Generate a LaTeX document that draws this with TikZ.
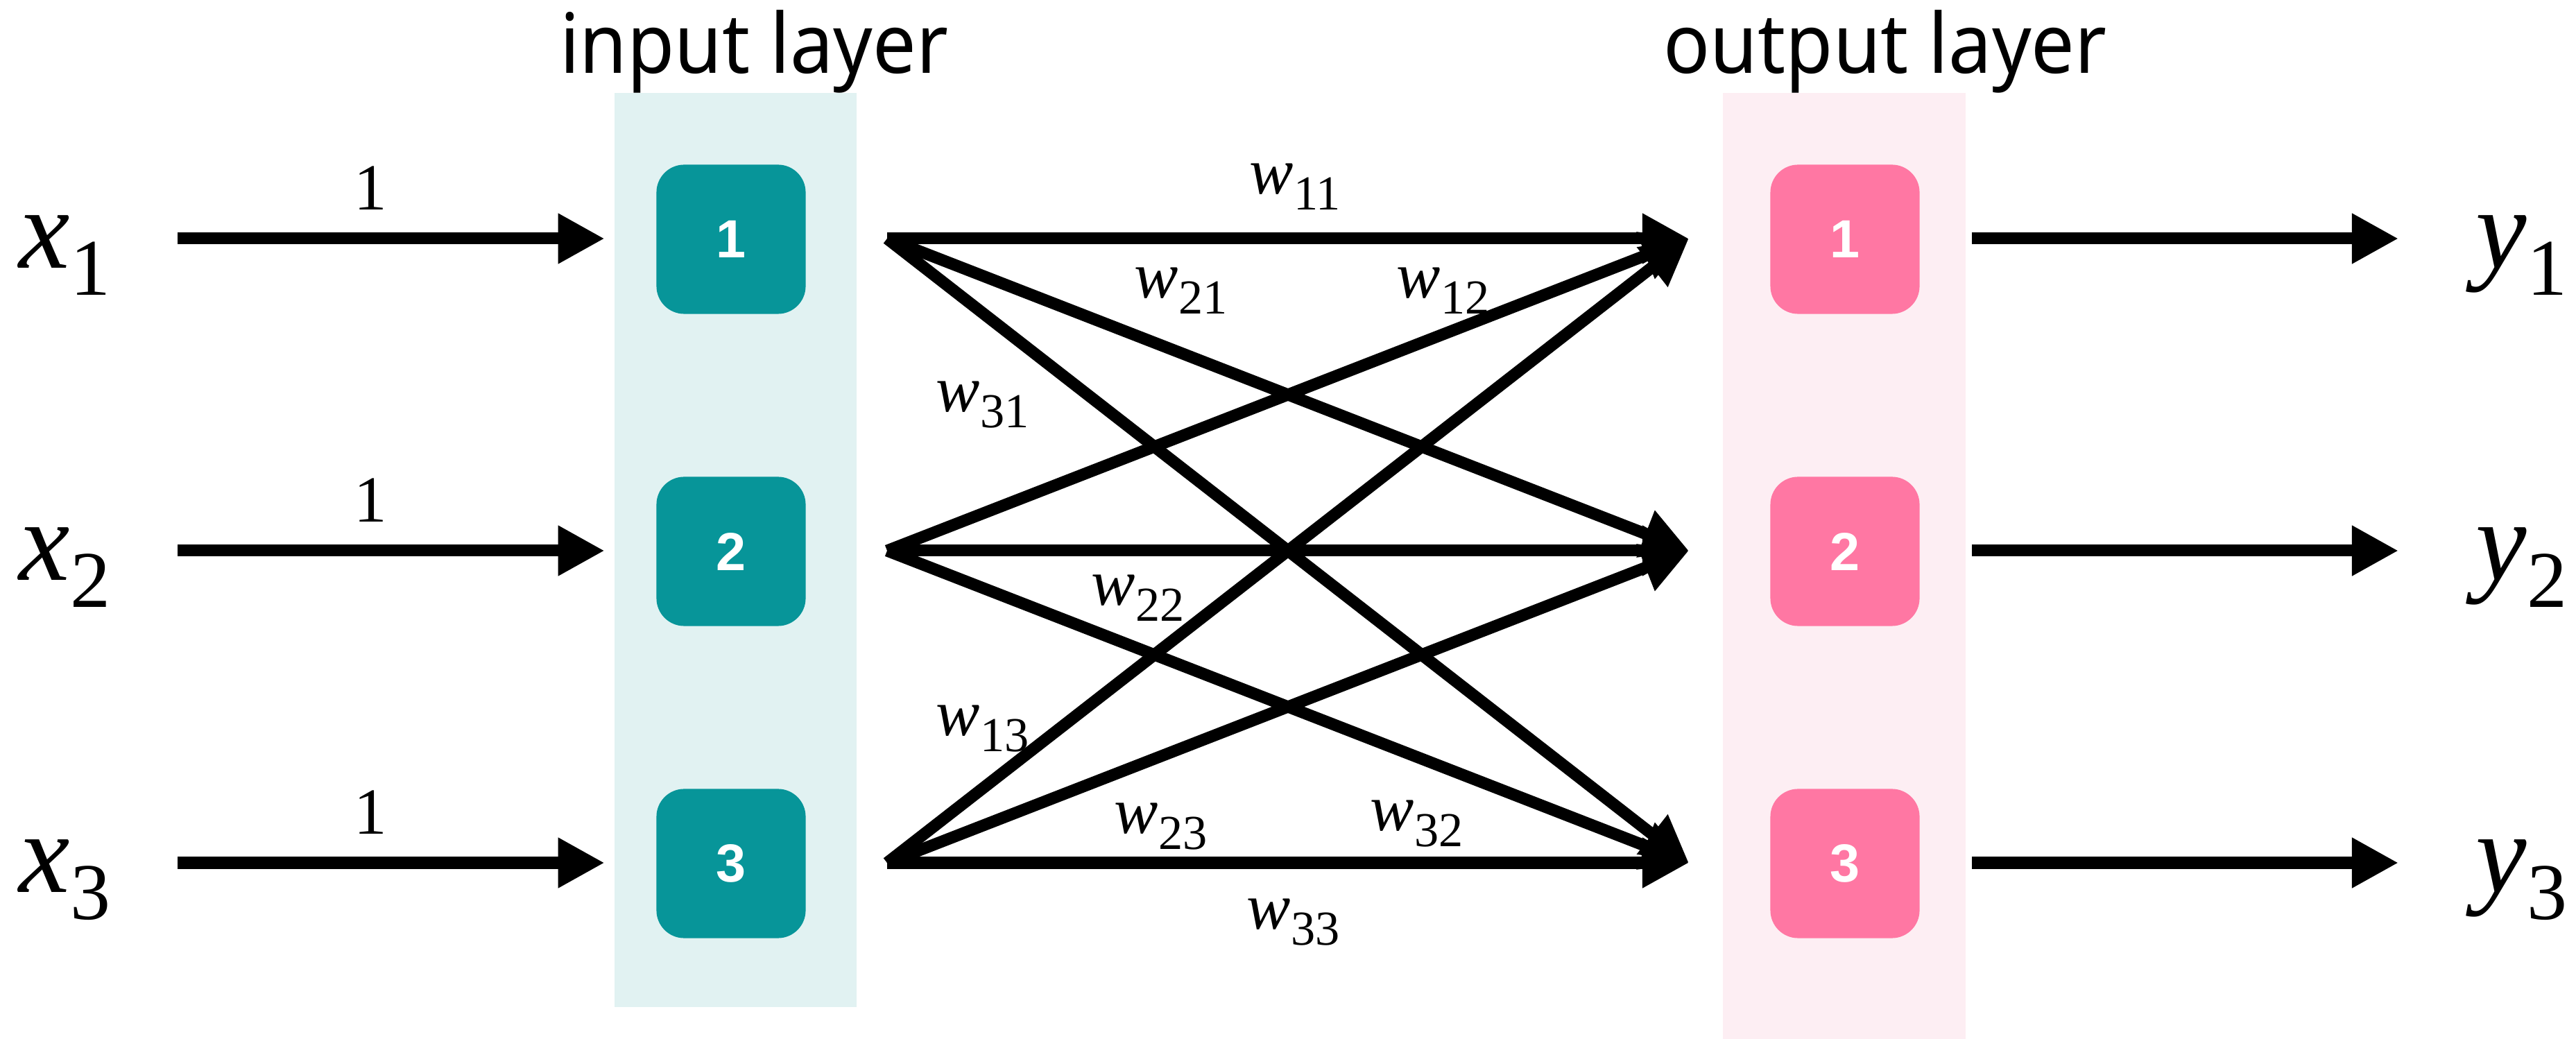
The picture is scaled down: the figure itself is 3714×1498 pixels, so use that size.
\documentclass[tikz,border=0pt]{standalone}
\usepackage{fontspec}
\usepackage{graphicx}
\setmainfont{Liberation Serif}
\newfontfamily\titlefont{Noto Sans}
\newfontfamily\numfont{Liberation Sans}
\usetikzlibrary{arrows.meta}
\definecolor{teal1}{HTML}{079599}
\definecolor{tealband}{HTML}{E1F2F2}
\definecolor{pink1}{HTML}{FF77A3}
\definecolor{pinkband}{HTML}{FDEEF3}
\newcommand\bigvar[2]{{\fontsize{47}{47}\selectfont\textit{#1}\raisebox{-11pt}{\fontsize{33}{33}\selectfont #2}}}
\newcommand\wlab[1]{{\fontsize{27}{27}\selectfont\textit{w}\raisebox{-6.5pt}{\fontsize{20}{20}\selectfont #1}}}
\begin{document}
\begin{tikzpicture}[x=0.01cm,y=-0.01cm,
  arr/.style={line width=0.17cm,-{Triangle[length=0.67cm,width=0.68cm]}},
  inbox/.style={fill=teal1,rounded corners=0.4cm,minimum width=2.15cm,minimum height=2.15cm,inner sep=0pt,text=white,font=\numfont\bfseries\fontsize{22}{22}\selectfont},
  outbox/.style={inbox,fill=pink1},
  lab/.style={inner sep=0pt,anchor=base west},
  one/.style={inner sep=0pt,anchor=base,font=\fontsize{27}{27}\selectfont},
  title/.style={inner sep=0pt,anchor=base,font=\titlefont\fontsize{34}{34}\selectfont}]
\useasboundingbox (0,0) rectangle (3714,1498);
% bands
\fill[tealband] (886,134) rectangle (1235,1452);
\fill[pinkband] (2484,134) rectangle (2834,1498);
% titles
\node[title] (tin) at (1087,106) {\scalebox{0.93}[1]{input layer}};
\node[title] (tout) at (2718,106) {\scalebox{0.93}[1]{output layer}};
% nodes
\node[inbox] (in1) at (1054,345) {1};
\node[inbox] (in2) at (1054,795) {2};
\node[inbox] (in3) at (1054,1245) {3};
\node[outbox] (out1) at (2660,345) {1};
\node[outbox] (out2) at (2660,795) {2};
\node[outbox] (out3) at (2660,1245) {3};
% variable labels
\node[lab] (x1) at (27,387) {\bigvar{x}{1}};
\node[lab] (x2) at (27,837) {\bigvar{x}{2}};
\node[lab] (x3) at (27,1287) {\bigvar{x}{3}};
\node[lab] (y1) at (3569,387) {\bigvar{y}{1}};
\node[lab] (y2) at (3569,837) {\bigvar{y}{2}};
\node[lab] (y3) at (3569,1287) {\bigvar{y}{3}};
% input arrows
\coordinate (xs1) at (256,344);
\coordinate (xs2) at (256,794);
\coordinate (xs3) at (256,1244);
\draw[arr,shorten >=0.74cm] (xs1) -- (in1.west |- xs1);
\draw[arr,shorten >=0.74cm] (xs2) -- (in2.west |- xs2);
\draw[arr,shorten >=0.74cm] (xs3) -- (in3.west |- xs3);
\node[one] (o1) at (534,303) {1};
\node[one] (o2) at (534,753) {1};
\node[one] (o3) at (534,1203) {1};
% output arrows
\coordinate (ye1) at (3458,344);
\coordinate (ye2) at (3458,794);
\coordinate (ye3) at (3458,1244);
\draw[arr,shorten <=0.75cm] (out1.east |- ye1) -- (ye1);
\draw[arr,shorten <=0.75cm] (out2.east |- ye2) -- (ye2);
\draw[arr,shorten <=0.75cm] (out3.east |- ye3) -- (ye3);
% weight connections
\coordinate (s1) at (1279,344);
\coordinate (s2) at (1279,794);
\coordinate (s3) at (1279,1244);
\coordinate (t1) at (2435,344);
\coordinate (t2) at (2435,794);
\coordinate (t3) at (2435,1244);
\foreach \a in {1,2,3}{\foreach \b in {1,2,3}{\draw[arr] (s\a) -- (t\b);}}
% weight labels
\node[lab] (w11) at (1801,280) {\wlab{11}};
\node[lab] (w21) at (1635,430) {\wlab{21}};
\node[lab] (w12) at (2013,430) {\wlab{12}};
\node[lab] (w31) at (1349,594) {\wlab{31}};
\node[lab] (w22) at (1573,873) {\wlab{22}};
\node[lab] (w13) at (1349,1061) {\wlab{13}};
\node[lab] (w23) at (1606,1202) {\wlab{23}};
\node[lab] (w32) at (1975,1198) {\wlab{32}};
\node[lab] (w33) at (1797,1340) {\wlab{33}};
\end{tikzpicture}
\end{document}
